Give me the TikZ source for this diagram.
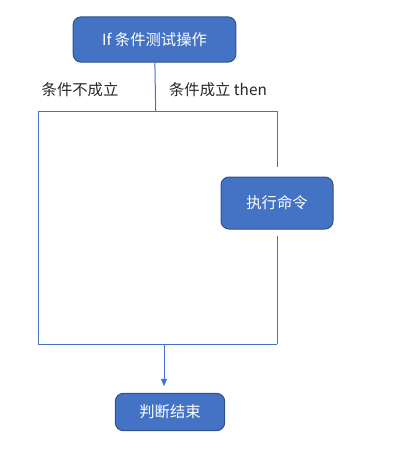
\documentclass[tikz,border=0pt]{standalone}
\usepackage{fontspec}
\setmainfont{Noto Sans CJK SC}
\usepackage{xcolor}
\usetikzlibrary{arrows.meta, positioning}
\definecolor{boxblue}{HTML}{4472C4}
\definecolor{boxedge}{HTML}{2F528F}

\begin{document}
\begin{tikzpicture}[
  x=0.75pt, y=-0.75pt,
  block/.style={rectangle, rounded corners=6pt, draw=boxedge, line width=0.75pt, fill=boxblue, text=white, font=\fontsize{11.5}{13}\selectfont, align=center, inner sep=0pt},
  line/.style={draw=boxblue, line width=0.75pt},
  arrow/.style={draw=boxblue, line width=0.6pt, -{Triangle[width=4.5pt, length=5.5pt]}},
  label/.style={text=black!85, font=\fontsize{11.5}{13}\selectfont},
]
\useasboundingbox (0,0) rectangle (400,450);

% Blocks
\node[block, minimum width=122pt, minimum height=34pt] (test) at (154.5,39.5) {If 条件测试操作};
\node[block, minimum width=84pt, minimum height=39pt] (exec) at (277,203) {执行命令};
\node[block, minimum width=82pt, minimum height=28pt] (done) at (170,412) {判断结束};

% Corners
\coordinate (split) at (155.7,111);
\coordinate (topleft) at (38,111);
\coordinate (topright) at (277,111);
\coordinate (botleft) at (38,344);
\coordinate (botright) at (277,344);
\coordinate (merge) at (164,344);

% Labels
\node[label] (no) at (80,90) {条件不成立};
\node[label] (yes) at (218,90) {条件成立 then};

% Connections
\draw[line] (test) -- (split);
\draw[line, shorten >=7pt] (topleft) -- (topright) -- (exec.north);
\draw[line] (topleft) -- (botleft) -- (botright);
\draw[line, shorten <=5pt] (exec.south) -- (botright);
\draw[arrow, shorten >=5pt] (merge) -- (merge |- done.north);

\end{tikzpicture}
\end{document}
